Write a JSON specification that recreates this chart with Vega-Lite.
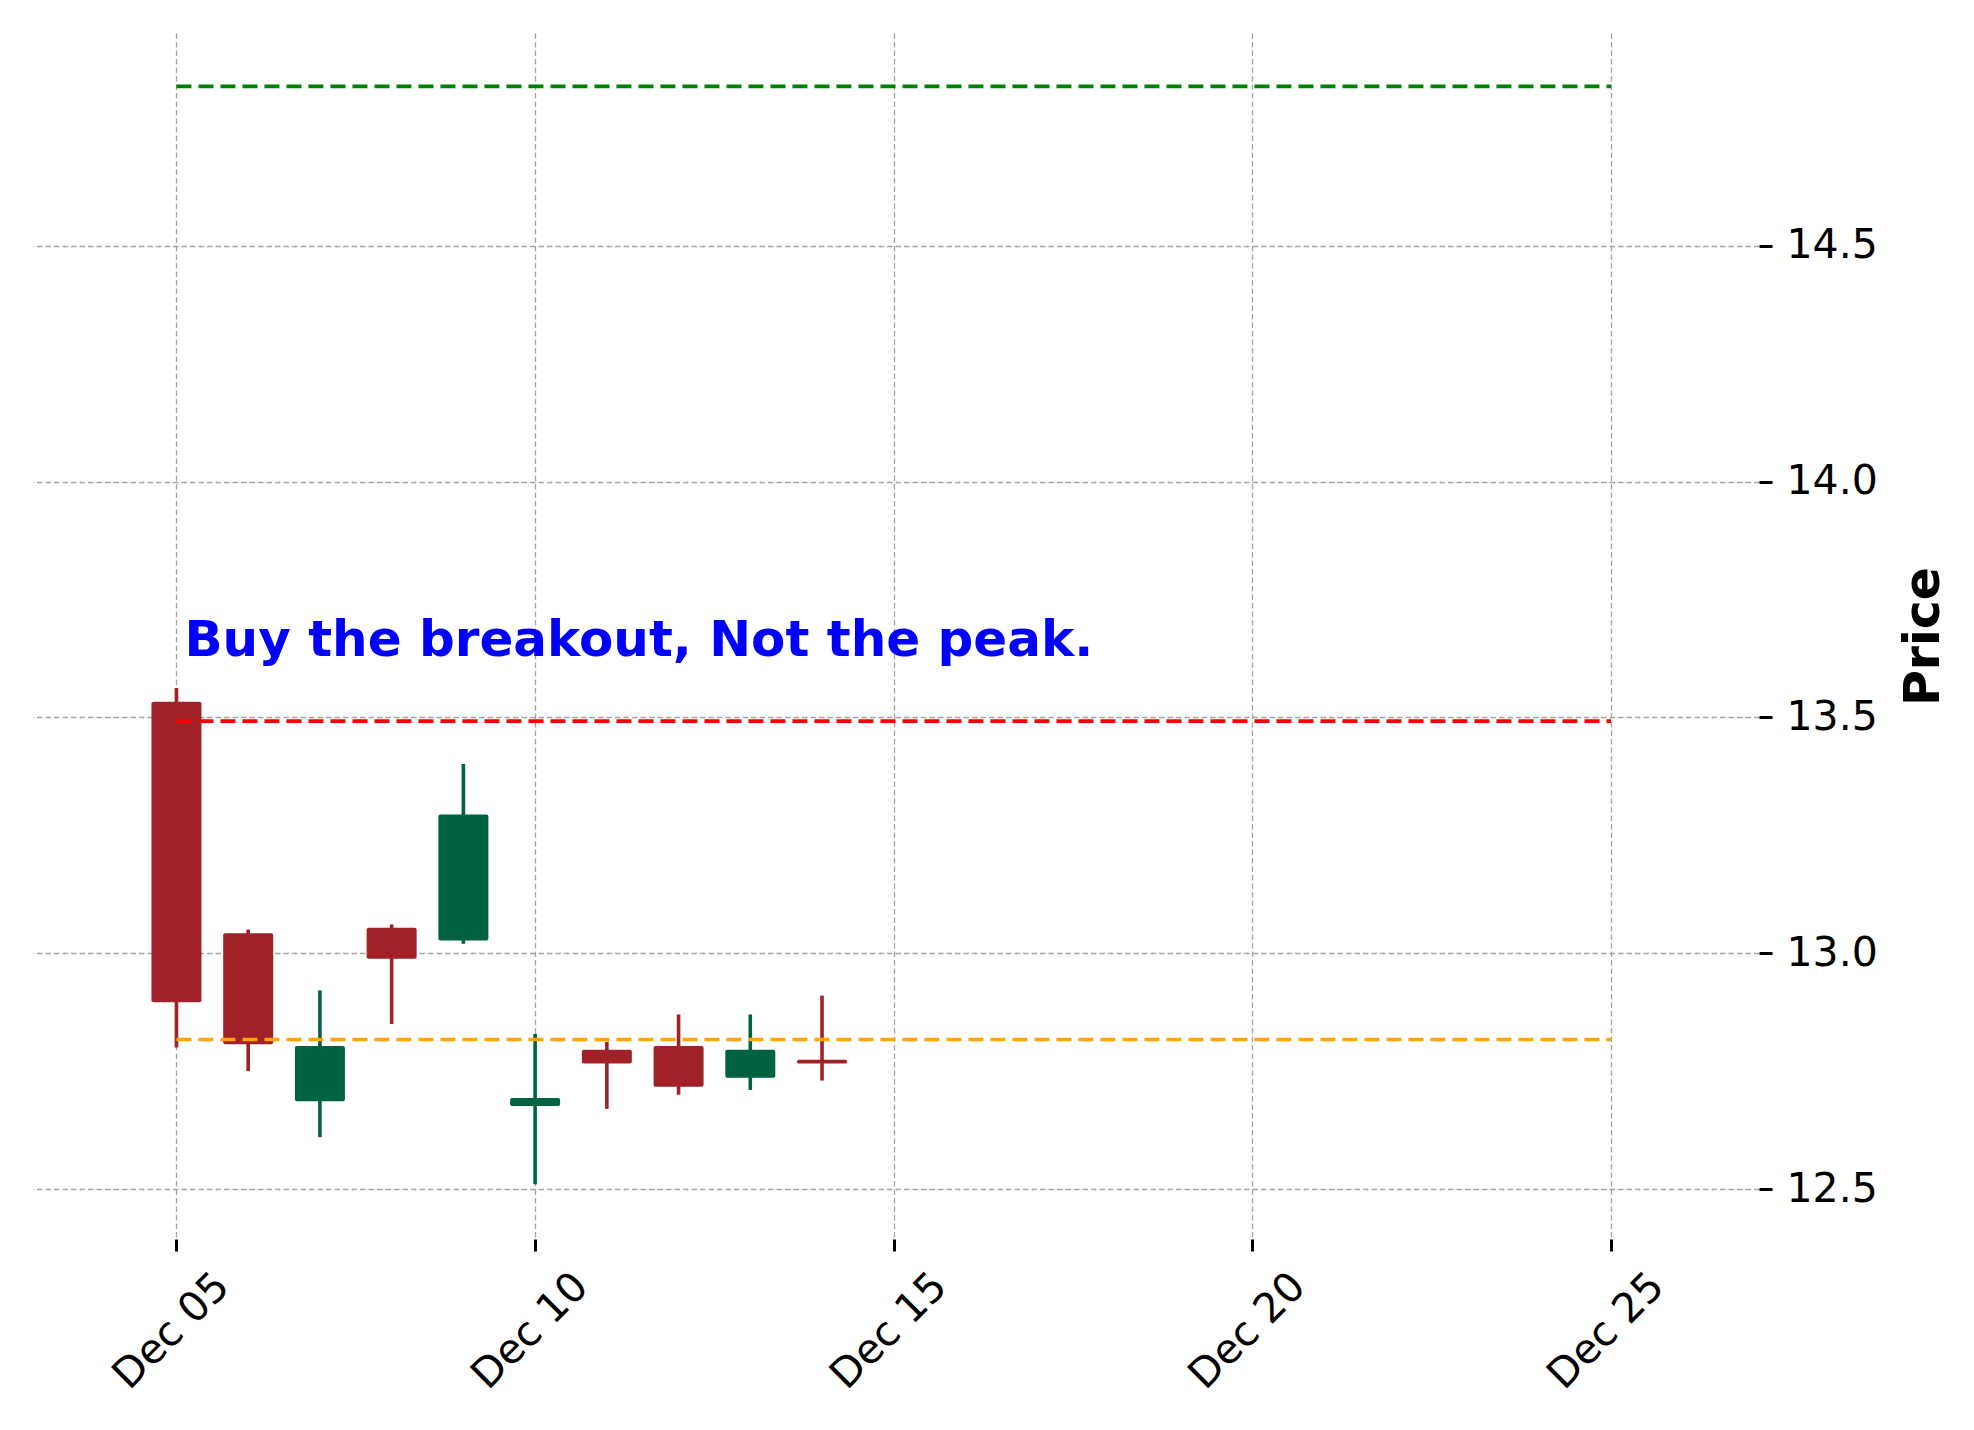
{
  "$schema": "https://vega.github.io/schema/vega-lite/v6.json",
  "width": 1726,
  "height": 1206,
  "autosize": {"type": "none"},
  "padding": {"left": 33, "top": 33, "right": 215, "bottom": 191},
  "background": "white",
  "config": {"view": {"stroke": null}, "font": "DejaVu Sans"},
  "datasets": {
    "candles": [
      {"date": "2024-12-05T00:00:00Z", "open": 13.533, "high": 13.562, "low": 12.80, "close": 12.896, "dir": "down"},
      {"date": "2024-12-06T00:00:00Z", "open": 13.042, "high": 13.050, "low": 12.75, "close": 12.807, "dir": "down"},
      {"date": "2024-12-07T00:00:00Z", "open": 12.686, "high": 12.921, "low": 12.61, "close": 12.803, "dir": "up"},
      {"date": "2024-12-08T00:00:00Z", "open": 13.054, "high": 13.061, "low": 12.85, "close": 12.988, "dir": "down"},
      {"date": "2024-12-09T00:00:00Z", "open": 13.027, "high": 13.401, "low": 13.020, "close": 13.294, "dir": "up"},
      {"date": "2024-12-10T00:00:00Z", "open": 12.676, "high": 12.829, "low": 12.51, "close": 12.693, "dir": "up"},
      {"date": "2024-12-11T00:00:00Z", "open": 12.795, "high": 12.812, "low": 12.670, "close": 12.766, "dir": "down"},
      {"date": "2024-12-12T00:00:00Z", "open": 12.803, "high": 12.870, "low": 12.700, "close": 12.717, "dir": "down"},
      {"date": "2024-12-13T00:00:00Z", "open": 12.736, "high": 12.870, "low": 12.710, "close": 12.795, "dir": "up"},
      {"date": "2024-12-14T00:00:00Z", "open": 12.774, "high": 12.910, "low": 12.730, "close": 12.766, "dir": "down"}
    ],
    "levels": [
      {"start": "2024-12-05T00:00:00Z", "end": "2024-12-25T00:00:00Z", "price": 14.838, "level": "target"},
      {"start": "2024-12-05T00:00:00Z", "end": "2024-12-25T00:00:00Z", "price": 13.492, "level": "breakout"},
      {"start": "2024-12-05T00:00:00Z", "end": "2024-12-25T00:00:00Z", "price": 12.817, "level": "support"}
    ],
    "notes": [
      {"date": "2024-12-05T00:00:00Z", "price": 13.6, "label": "Buy the breakout, Not the peak."}
    ]
  },
  "layer": [
    {
      "data": {"name": "candles"},
      "mark": {"type": "rule", "strokeWidth": 3.6},
      "encoding": {
        "x": {
          "field": "date", "type": "temporal",
          "scale": {"type": "utc", "padding": 0, "domain": [{"year": 2024, "month": 12, "date": 3, "utc": true}, {"year": 2024, "month": 12, "date": 27, "hours": 1, "minutes": 30, "utc": true}]},
          "axis": {
            "orient": "bottom", "title": null, "domain": false,
            "values": [{"year": 2024, "month": 12, "date": 5, "utc": true}, {"year": 2024, "month": 12, "date": 10, "utc": true}, {"year": 2024, "month": 12, "date": 15, "utc": true}, {"year": 2024, "month": 12, "date": 20, "utc": true}, {"year": 2024, "month": 12, "date": 25, "utc": true}],
            "labelExpr": "utcFormat(datum.value, '%b %d')",
            "labelAngle": -45, "labelAlign": "center", "labelBaseline": "middle",
            "labelPadding": 80, "labelOffset": -5, "labelFontSize": 41, "labelColor": "black",
            "labelFont": "DejaVu Sans", "labelFlush": false, "labelOverlap": false, "labelBound": false,
            "tickSize": 12, "tickWidth": 3, "tickColor": "black",
            "grid": true, "gridColor": "#a3a3a3", "gridDash": [5.5, 3], "gridWidth": 1.3
          }
        },
        "y": {
          "field": "low", "type": "quantitative",
          "scale": {"domain": [12.394, 14.951], "zero": false, "nice": false, "padding": 0},
          "axis": {
            "orient": "right", "domain": false,
            "values": [12.5, 13.0, 13.5, 14.0, 14.5], "format": ".1f",
            "labelFontSize": 41, "labelColor": "black", "labelFont": "DejaVu Sans", "labelPadding": 14,
            "tickSize": 13, "tickWidth": 3, "tickColor": "black",
            "grid": true, "gridColor": "#a3a3a3", "gridDash": [5.5, 3], "gridWidth": 1.3,
            "title": "Price", "titleFontSize": 49, "titleFontWeight": "bold", "titleFont": "DejaVu Sans",
            "titleColor": "black", "titleAngle": 270, "titleBaseline": "top", "titlePadding": 22
          }
        },
        "y2": {"field": "high"},
        "color": {
          "field": "dir", "type": "nominal", "legend": null,
          "scale": {"domain": ["down", "up", "target", "breakout", "support"], "range": ["#A02128", "#006340", "#008000", "#ff0000", "#ffa500"]}
        }
      }
    },
    {
      "data": {"name": "candles"},
      "mark": {"type": "bar", "size": 50, "cornerRadius": 2},
      "encoding": {
        "x": {"field": "date", "type": "temporal"},
        "y": {"field": "open", "type": "quantitative"},
        "y2": {"field": "close"},
        "color": {"field": "dir", "type": "nominal", "legend": null}
      }
    },
    {
      "data": {"name": "levels"},
      "mark": {"type": "rule", "strokeWidth": 3.7, "strokeDash": [15, 7]},
      "encoding": {
        "x": {"field": "start", "type": "temporal"},
        "x2": {"field": "end"},
        "y": {"field": "price", "type": "quantitative"},
        "color": {"field": "level", "type": "nominal", "legend": null}
      }
    },
    {
      "data": {"name": "notes"},
      "mark": {"type": "text", "align": "left", "baseline": "bottom", "dx": 8, "dy": -4, "fontSize": 50, "fontWeight": "bold", "font": "DejaVu Sans", "color": "#0000ff"},
      "encoding": {
        "x": {"field": "date", "type": "temporal"},
        "y": {"field": "price", "type": "quantitative"},
        "text": {"field": "label"}
      }
    }
  ]
}
